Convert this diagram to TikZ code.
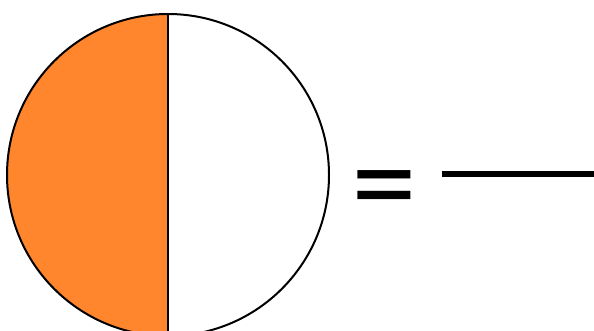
\documentclass[tikz,border=0pt]{standalone}
\usepackage{fontspec}
\setmainfont{Liberation Sans}
\definecolor{halforange}{HTML}{FF862C}
\begin{document}
\begin{tikzpicture}[x=1pt,y=-1pt,
  outline/.style={draw=black,line width=2pt}]
\path[use as bounding box,clip] (0,0) rectangle (594,331);
\coordinate (c) at (168,175);
\fill[halforange] (168,14) arc[start angle=270,end angle=90,radius=161] -- cycle;
\draw[outline] (c) circle[radius=161];
\draw[outline] (168,14) -- (168,336);
\node[inner sep=0pt,font=\bfseries\fontsize{96}{96}\selectfont] (eq) at (384,190.7) {\scalebox{1.1}[0.8]{=}};
\coordinate (l1) at (441.5,174);
\coordinate (l2) at (593.5,174);
\draw[line width=5.6pt] (l1) -- (l2);
\end{tikzpicture}
\end{document}
